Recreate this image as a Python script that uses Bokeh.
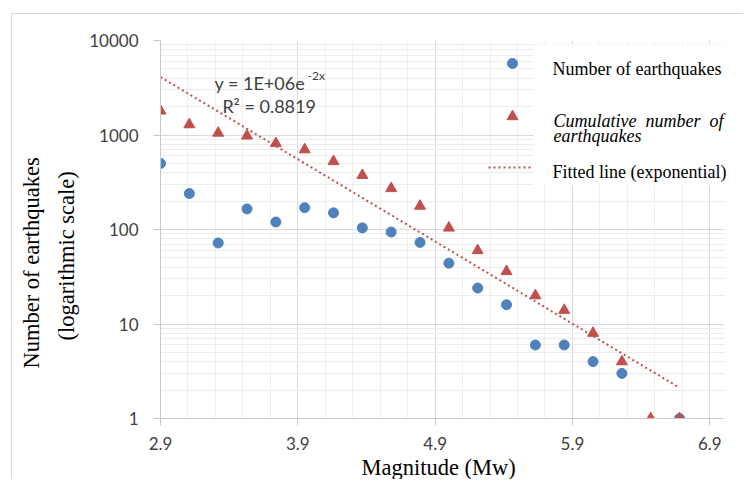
import numpy as np
from bokeh.plotting import figure
from bokeh.models import (FixedTicker, BasicTickFormatter, Range1d, LinearScale,
                          Label, BoxAnnotation, Title)
from bokeh.embed import file_html
from bokeh.resources import INLINE

# ---- data -------------------------------------------------------------
magnitude = [2.90, 3.11, 3.32, 3.53, 3.74, 3.95, 4.16, 4.37, 4.58, 4.79,
             5.00, 5.21, 5.42, 5.63, 5.84, 6.05, 6.26, 6.47, 6.68]
count = [500, 240, 72, 165, 120, 170, 150, 104, 94, 73,
         44, 24, 16, 6, 6, 4, 3, 0, 1]
cumulative = [1800, 1290, 1050, 980, 815, 700, 525, 375, 272, 177,
              104, 60, 36, 20, 14, 8, 4, 1, 1]

x_ticks = [2.9, 3.9, 4.9, 5.9, 6.9]
x_minor_ticks = [3.1, 3.3, 3.5, 3.7, 4.1, 4.3, 4.5, 4.7, 5.1, 5.3, 5.5, 5.7,
                 6.1, 6.3, 6.5, 6.7]
y_ticks = [1, 10, 100, 1000, 10000]
y_minor_ticks = [m * d for d in (1, 10, 100, 1000) for m in range(2, 10)]

equation_text = "y = 1E+06e"
equation_exp = "-2x"
r2_text = "R\u00b2 = 0.8819"

# ---- colours / fonts ---------------------------------------------------
BLUE = "#4F81BD"
RED = "#C0504D"
TICK_FONT = "Lato"
SERIF = "Liberation Serif"
TEXT_GREY = "#404040"
DOTS = "2 3"
TITLE_SIZE = "22.5px"
NBSP2 = "\u00a0\u00a0"

# ---- geometry (page pixels) ------------------------------------------
CANVAS_X0, CANVAS_Y0 = 12, 14          # after outer border + margin
AXIS_L, AXIS_R = 160, 723              # x axis: 2.9 .. 7.0
FRAME_L, FRAME_R, FRAME_T, FRAME_B = 160, 744, 40, 418
FRAME_W = FRAME_R - FRAME_L
FRAME_H = FRAME_B - FRAME_T
X_MIN, X_MAX = 2.9, 7.0
PX_PER_UNIT = (AXIS_R - AXIS_L) / (X_MAX - X_MIN)

p = figure(width=744 - CANVAS_X0, height=480 - CANVAS_Y0,
           x_range=Range1d(X_MIN, X_MIN + FRAME_W / PX_PER_UNIT),
           y_range=Range1d(1, 10000),
           y_axis_type="log", output_backend="svg", toolbar_location=None,
           min_border_left=FRAME_L - CANVAS_X0,
           min_border_right=0,
           min_border_top=FRAME_T - CANVAS_Y0,
           min_border_bottom=480 - FRAME_B,
           margin=(13, 0, 0, 11),
           styles={"border-top": "1px solid #d9d9d9",
                   "border-left": "1px solid #d9d9d9"})
p.outline_line_color = None
p.background_fill_color = "white"
p.border_fill_color = "white"

# pixel-space helper range (frame-local, y pointing down) for annotations
p.extra_x_ranges = {"px": Range1d(0, FRAME_W)}
p.extra_y_ranges = {"px": Range1d(FRAME_H, 0)}
p.extra_x_scales = {"px": LinearScale()}
p.extra_y_scales = {"px": LinearScale()}

# ---- axes & grid -------------------------------------------------------
p.xaxis.ticker = FixedTicker(ticks=x_ticks, minor_ticks=x_minor_ticks)
p.yaxis.ticker = FixedTicker(ticks=y_ticks, minor_ticks=y_minor_ticks)
p.xaxis.formatter = BasicTickFormatter()
p.yaxis.formatter = BasicTickFormatter(use_scientific=False)
p.xaxis.bounds = (X_MIN, X_MAX)
for ax in (p.xaxis, p.yaxis):
    ax.axis_line_color = "#c8c8c8"
    ax.major_tick_line_color = "#c8c8c8"
    ax.major_tick_out = 7
    ax.major_tick_in = 0
    ax.minor_tick_out = 0
    ax.minor_tick_in = 0
    ax.minor_tick_line_color = None
    ax.major_label_text_font = TICK_FONT
    ax.major_label_text_font_size = "17px"
    ax.major_label_text_color = TEXT_GREY
p.yaxis.major_label_standoff = 15
p.xaxis.major_label_standoff = 11

p.xgrid.grid_line_color = "#d9d9d9"
p.xgrid.minor_grid_line_color = "#efefef"
p.ygrid.grid_line_color = "#d9d9d9"
p.ygrid.minor_grid_line_color = "#ececec"


def fx(page_x):
    return page_x - FRAME_L


def fy(page_y):
    return page_y - FRAME_T


# the plot area stops at x = 7.0; blank out the strip to its right
p.add_layout(BoxAnnotation(left=fx(AXIS_R + 1), right=fx(FRAME_R + 5),
                           top=-5, bottom=FRAME_H + 5,
                           x_range_name="px", y_range_name="px",
                           fill_color="white", fill_alpha=1.0,
                           line_color=None, level="underlay"))

# ---- series ------------------------------------------------------------
mag = np.array(magnitude)
cnt = np.array(count, dtype=float)
cum = np.array(cumulative, dtype=float)
has_count = cnt > 0

p.scatter(mag[has_count], cnt[has_count], marker="circle", size=10,
          fill_color=BLUE, line_color=BLUE)
p.scatter(mag, cum, marker="triangle", size=11,
          fill_color=RED, line_color=RED)

# exponential trend line fitted to the cumulative counts
slope, intercept = np.polyfit(mag, np.log(cum), 1)
fit_x = np.linspace(mag.min(), mag.max(), 60)
fit_y = np.exp(intercept + slope * fit_x)
p.line(fit_x, fit_y, line_color=RED, line_width=2, line_dash=DOTS)


def text(label, x, y, font, size, color="black", align="left",
         baseline="alphabetic", style="normal"):
    p.add_layout(Label(x=fx(x), y=fy(y), x_range_name="px", y_range_name="px",
                       text=label, text_font=font, text_font_size=size,
                       text_color=color, text_align=align,
                       text_baseline=baseline, text_font_style=style))


# ---- equation of the trend line --------------------------------------
text(equation_text, 214, 82, TICK_FONT, "18px", TEXT_GREY)
text(equation_exp, 307, 75, TICK_FONT, "12px", TEXT_GREY)
text(r2_text, 222, 105, TICK_FONT, "18px", TEXT_GREY)

# ---- legend ------------------------------------------------------------
p.add_layout(BoxAnnotation(left=fx(533), right=fx(FRAME_R + 5), top=fy(44),
                           bottom=fy(185), x_range_name="px",
                           y_range_name="px", fill_color="white",
                           fill_alpha=1.0, line_color=None))
p.scatter(x=[fx(512)], y=[fy(63)], x_range_name="px", y_range_name="px",
          marker="circle", size=10, fill_color=BLUE, line_color=BLUE)
p.scatter(x=[fx(512)], y=[fy(116)], x_range_name="px", y_range_name="px",
          marker="triangle", size=11, fill_color=RED, line_color=RED)
p.line(x=[fx(488), fx(532)], y=[fy(167), fy(167)], x_range_name="px",
       y_range_name="px", line_color=RED, line_width=2, line_dash=DOTS)

text("Number of earthquakes", 552, 68, SERIF, "18px")
text(f"Cumulative{NBSP2}number{NBSP2}of", 553, 120, SERIF, "18px",
     style="italic")
text("earthquakes", 553, 135, SERIF, "18px", style="italic")
text("Fitted line (exponential)", 552, 171, SERIF, "18px")

# ---- axis titles (left-aligned with an offset from the frame corner) ----
p.add_layout(Title(text="Magnitude (Mw)", align="left",
                   offset=361 - FRAME_L, standoff=0,
                   text_font=SERIF, text_font_size=TITLE_SIZE,
                   text_font_style="normal", text_color="black"), "below")
p.add_layout(Title(text="(logarithmic scale)", align="left",
                   offset=FRAME_B - 340, standoff=16,
                   text_font=SERIF, text_font_size=TITLE_SIZE,
                   text_font_style="normal", text_color="black"), "left")
p.add_layout(Title(text="Number of earthquakes", align="left",
                   offset=FRAME_B - 368, standoff=0,
                   text_font=SERIF, text_font_size=TITLE_SIZE,
                   text_font_style="normal", text_color="black"), "left")

open("out.html", "w").write(file_html(p, INLINE))
